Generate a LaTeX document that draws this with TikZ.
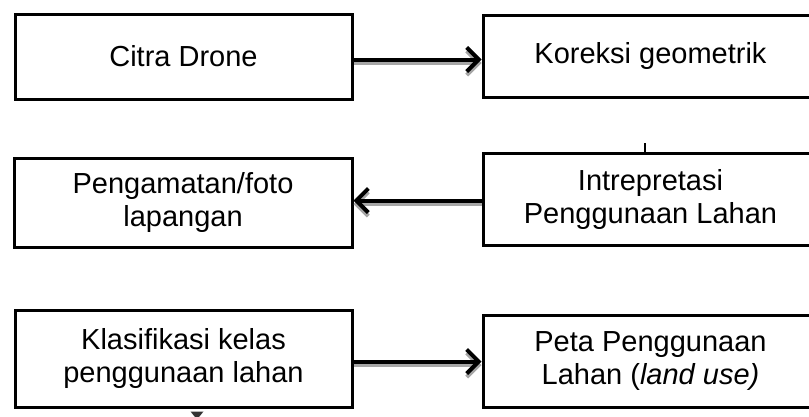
\documentclass[tikz,border=0pt]{standalone}
\usepackage{fontspec}
\setmainfont{Liberation Sans}
\usetikzlibrary{arrows.meta,calc}
\begin{document}
\begin{tikzpicture}[x=1pt,y=-1pt,
  box/.style={draw=black, line width=3pt, rectangle, inner sep=0pt, align=center,
    font=\fontsize{29}{33}\selectfont},
  flow/.style={line width=4pt, -{Straight Barb[length=12pt,width=24pt,line width=4pt]}},
  flowshade/.style={flow, draw=black!35, transform canvas={yshift=-3.5pt}}
]
\clip (0,0) rectangle (809,416);

% process boxes
\node[box, minimum width=337pt, minimum height=85pt] (b1) at (183.5,56.5) {Citra Drone};
\node[box, minimum width=335pt, minimum height=82pt] (b2) at (650.5,56) {Koreksi geometrik};
\node[box, minimum width=338pt, minimum height=89pt] (b3) at (183,202.5) {Pengamatan/foto\\lapangan};
\node[box, minimum width=335pt, minimum height=92pt] (b4) at (650.5,199) {Intrepretasi\\Penggunaan Lahan};
\node[box, minimum width=337pt, minimum height=97pt] (b5) at (183.5,358.5) {Klasifikasi kelas\\penggunaan lahan};
\node[box, minimum width=335pt, minimum height=92pt] (b6) at (650.5,361) {Peta Penggunaan\\Lahan (\textit{land use)}};

% connector start points
\coordinate (a1) at ($(b1.east)+(0,3)$);
\coordinate (a2) at ($(b4.west)+(0,1.5)$);
\coordinate (a3) at ($(b5.east)+(0,3)$);

% shaded copies underneath
\draw[flowshade] (a1) -- (a1 -| b2.west);
\draw[flowshade] (a2) -- (a2 -| b3.east);
\draw[flowshade] (a3) -- (a3 -| b6.west);

% connectors
\draw[flow] (a1) -- (a1 -| b2.west);
\draw[flow] (a2) -- (a2 -| b3.east);
\draw[flow] (a3) -- (a3 -| b6.west);

% short stub above the interpretation box
\coordinate (t) at (645,143);
\draw[line width=2.5pt] (t) -- (t |- b4.north);

% arrow tip leaving the classification box
\fill[black!80] ($(b5.south)+(7,3)$) -- ($(b5.south)+(20,3)$) -- ($(b5.south)+(13.5,11)$) -- cycle;
\end{tikzpicture}
\end{document}
